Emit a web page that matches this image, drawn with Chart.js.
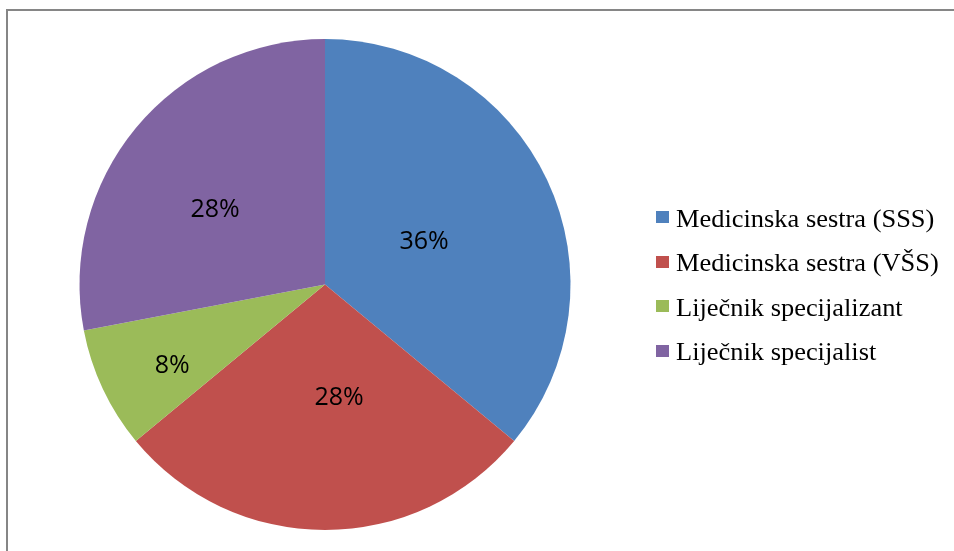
<!DOCTYPE html>
<html>
<head>
<meta charset="utf-8">
<script src="https://cdn.jsdelivr.net/npm/chart.js@4"></script>
<style>
  html, body { margin: 0; padding: 0; background: #ffffff; }
  #wrap { position: relative; width: 954px; height: 551px; overflow: hidden; background: #fff; }
  #frame { position: absolute; left: 6px; top: 9px; right: -10px; bottom: -10px;
           border-top: 2px solid #868686; border-left: 2px solid #868686; }
  #c { position: absolute; left: 0; top: 0; }
  #legend { position: absolute; left: 656px; top: 205.8px; }
  .item { position: relative; height: 44.4px; white-space: nowrap;
          font-family: "Liberation Serif", "Times New Roman", serif; font-size: 25px; line-height: 25px; color: #000; }
  .box { position: absolute; left: 0; top: 5.7px; width: 13px; height: 12px; }
  .txt { position: absolute; left: 20px; top: 0; transform-origin: 0 0; transform: scaleX(1.057); }
</style>
</head>
<body>
<div id="wrap">
  <div id="frame"></div>
  <canvas id="c" width="954" height="551"></canvas>
  <div id="legend"></div>
</div>
<script>
// ---- data ----
const categories = ["Medicinska sestra (SSS)", "Medicinska sestra (VŠS)", "Liječnik specijalizant", "Liječnik specijalist"];
const values = [36, 28, 8, 28];
const colors = ["#4F81BD", "#C0504D", "#9BBB59", "#8064A2"];
// label placement (fraction of radius, angular tweak in degrees)
const labelRadius = [0.442, 0.458, 0.702, 0.544];
const labelAngleShift = [1.1, -7.2, -2.3, -5.0];

const pieLabels = {
  id: 'pieLabels',
  afterDatasetsDraw(chart) {
    const ctx = chart.ctx;
    const meta = chart.getDatasetMeta(0);
    const total = values.reduce((a, b) => a + b, 0);
    ctx.save();
    ctx.fillStyle = '#000';
    ctx.font = '25px "Open Sans", sans-serif';
    ctx.textAlign = 'center';
    ctx.textBaseline = 'middle';
    meta.data.forEach((arc, i) => {
      const p = arc.getProps(['x', 'y', 'startAngle', 'endAngle', 'outerRadius'], true);
      const a = (p.startAngle + p.endAngle) / 2 + labelAngleShift[i] * Math.PI / 180;
      const d = p.outerRadius * labelRadius[i];
      const x = p.x + Math.cos(a) * d;
      const y = p.y + Math.sin(a) * d + 1.5;
      ctx.fillText(Math.round(values[i] / total * 100) + '%', x, y);
    });
    ctx.restore();
  }
};

new Chart(document.getElementById('c'), {
  type: 'pie',
  data: {
    labels: categories,
    datasets: [{
      data: values,
      backgroundColor: colors,
      borderWidth: 0,
      hoverOffset: 0,
      offset: 0
    }]
  },
  options: {
    responsive: false,
    animation: false,
    events: [],
    devicePixelRatio: 1,
    layout: { padding: { left: 79, right: 383, top: 39, bottom: 21 } },
    plugins: { legend: { display: false }, tooltip: { enabled: false } }
  },
  plugins: [pieLabels]
});

// HTML legend built from the data arrays
const lg = document.getElementById('legend');
categories.forEach((name, i) => {
  const row = document.createElement('div');
  row.className = 'item';
  const b = document.createElement('span');
  b.className = 'box';
  b.style.background = colors[i];
  const t = document.createElement('span');
  t.className = 'txt';
  t.textContent = name;
  row.appendChild(b);
  row.appendChild(t);
  lg.appendChild(row);
});
</script>
</body>
</html>
